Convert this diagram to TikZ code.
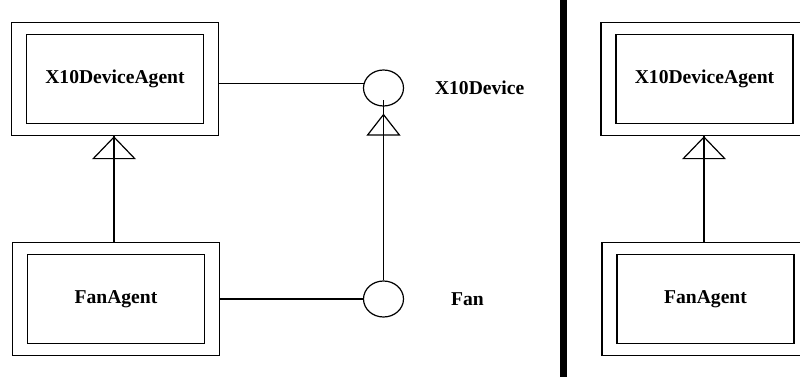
\documentclass[tikz,border=0pt]{standalone}
\usepackage{fontspec}
\setmainfont{Liberation Serif}
\usetikzlibrary{arrows.meta,fit,positioning,shapes.geometric}

\begin{document}
\begin{tikzpicture}[x=1pt,y=-1pt,line width=1.2pt,
    inbox/.style={draw,rectangle,minimum width=177pt,minimum height=89pt,
      font=\fontsize{19.6}{22}\selectfont\bfseries},
    outbox/.style={draw,rectangle,inner xsep=14.5pt,inner ysep=11.5pt},
    iface/.style={draw,ellipse,minimum width=40pt,minimum height=36pt,inner sep=0pt},
    iname/.style={font=\fontsize{19.6}{22}\selectfont\bfseries},
    inherit/.style={-{Triangle[open,length=23pt,width=44pt,line width=1.2pt]}},
    realize/.style={-{Triangle[open,length=22pt,width=34pt,line width=1.2pt]}}]
  \clip (0,0) rectangle (800,377);
  \fill[white] (0,0) rectangle (800,377);
  % Nodes
  \node[inbox] (devAin) at (115,79) {X10DeviceAgent};
  \node[outbox,fit=(devAin)] (devA) {};
  \node[inbox] (fanAin) at (116,299) {FanAgent};
  \node[outbox,fit=(fanAin)] (fanA) {};
  \node[iface] (x10) at (383.5,88) {};
  \node[iname,right=27pt of x10] (x10name) {X10Device};
  \node[iface] (fan) at (383.5,299) {};
  \node[iname,right=43pt of fan] (fanname) {Fan};
  \node[inbox] (devBin) at (704.5,79) {X10DeviceAgent};
  \node[outbox,fit=(devBin)] (devB) {};
  \node[inbox] (fanBin) at (705.5,299) {FanAgent};
  \node[outbox,fit=(fanBin)] (fanB) {};
  % Edges
  \draw (devA.east |- x10.167) -- (x10.167);
  \draw (fanA.east |- fan.west) -- (fan.west);
  \draw[inherit] (fanA.north -| 114,0) -- (devA.south -| 114,0);
  \draw (fanA.north -| 114,0) -- (devA.south -| 114,0);
  \draw[realize,shorten >=7pt] (fan) -- (x10);
  \draw (fan.north) -- ([yshift=7pt]x10.south);
  \draw[inherit] (fanB.north -| 704,0) -- (devB.south -| 704,0);
  \draw (fanB.north -| 704,0) -- (devB.south -| 704,0);
  % Divider
  \draw[line width=7pt] (563.5,0) -- (563.5,377);
\end{tikzpicture}
\end{document}
